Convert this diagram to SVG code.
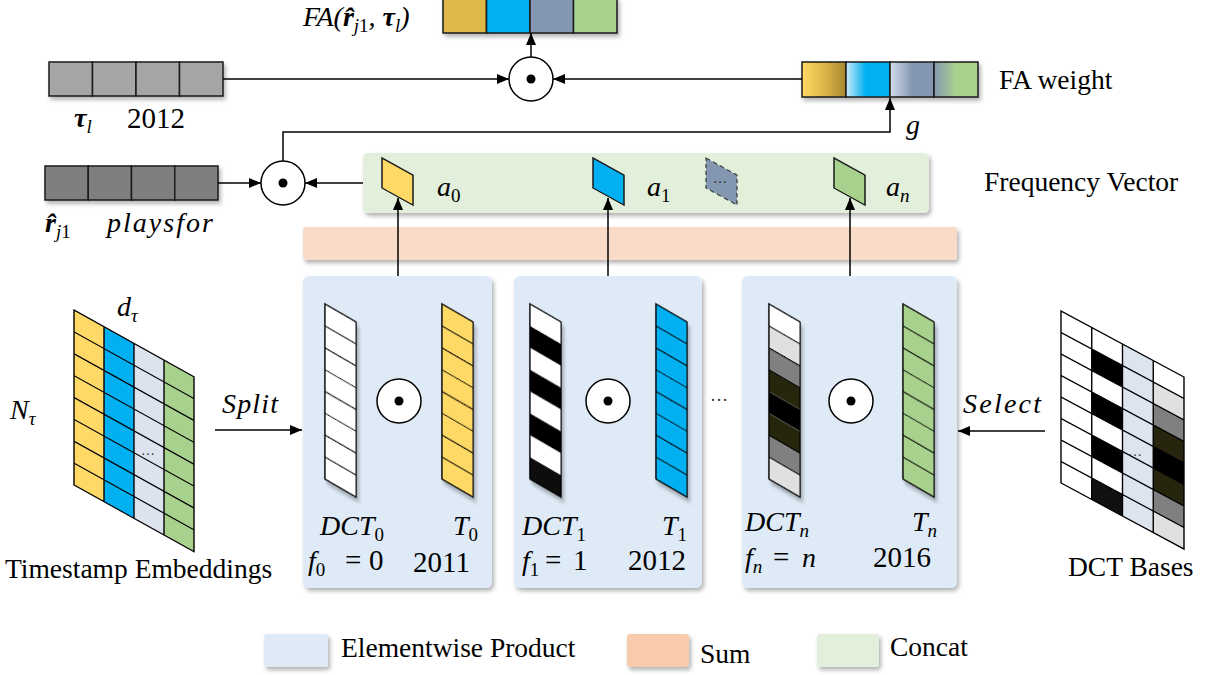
<svg xmlns="http://www.w3.org/2000/svg" width="1206" height="675" viewBox="0 0 1206 675">
<style>
.m{font-family:"Liberation Serif",serif;font-style:italic;font-size:28px;fill:#000}
.s{font-size:19px}
.sr{font-size:19px;font-style:normal}
.r{font-style:normal}
.d{font-family:"Liberation Serif",serif;font-style:normal;font-size:29px;fill:#000}
.b{font-weight:bold}
.t{font-family:"Liberation Serif",serif;font-size:27.5px;fill:#000}
.cell{stroke:#1a1a1a;stroke-width:1.5}
.ln{stroke:#000;stroke-width:1.5;fill:none}
.grid{stroke:#000;stroke-width:1.4;fill:none}
.op{fill:#fff;stroke:#000;stroke-width:1.5}
</style>
<defs>
<filter id="sh" x="-10%" y="-10%" width="130%" height="140%"><feDropShadow dx="2" dy="3" stdDeviation="2" flood-color="#000" flood-opacity="0.3"/></filter>
<marker id="arr" viewBox="0 0 12 10" refX="12" refY="5" markerWidth="12" markerHeight="10" markerUnits="userSpaceOnUse" orient="auto"><path d="M0,0 L12,5 L0,10 z" fill="#000"/></marker>
<linearGradient id="w1" x1="0" x2="1" y1="0" y2="0"><stop offset="0" stop-color="#FFDA60"/><stop offset="0.5" stop-color="#DDB64A"/><stop offset="1" stop-color="#A8892F"/></linearGradient>
<linearGradient id="w2" x1="0" x2="1" y1="0" y2="0"><stop offset="0" stop-color="#CDEBF9"/><stop offset="0.45" stop-color="#00B0F0"/><stop offset="1" stop-color="#00B0F0"/></linearGradient>
<linearGradient id="w3" x1="0" x2="1" y1="0" y2="0"><stop offset="0" stop-color="#D3DDEB"/><stop offset="0.5" stop-color="#8497B0"/><stop offset="1" stop-color="#8497B0"/></linearGradient>
<linearGradient id="w4" x1="0" x2="1" y1="0" y2="0"><stop offset="0" stop-color="#8497B0"/><stop offset="0.5" stop-color="#A9D18E"/><stop offset="1" stop-color="#A9D18E"/></linearGradient>
</defs>

<rect width="1206" height="675" fill="#fff"/>

<!-- Frequency vector concat box -->
<g id="freq-vector">
<rect x="363" y="153" width="566" height="60" rx="5" fill="#E2EFDA" filter="url(#sh)"/>
<g transform="matrix(1 0.55 0 1 382 158)"><rect width="31" height="30" fill="#FFD966" class="cell"/></g>
<g transform="matrix(1 0.55 0 1 593 158)"><rect width="31" height="30" fill="#00B0F0" class="cell"/></g>
<g transform="matrix(1 0.55 0 1 706 158)"><rect width="31" height="30" fill="#8497B0" stroke="#333" stroke-width="1.2" stroke-dasharray="4 3"/></g>
<text x="713" y="183" font-family="Liberation Serif,serif" font-size="14" fill="#222">…</text>
<g transform="matrix(1 0.55 0 1 834 158)"><rect width="31" height="30" fill="#A9D18E" class="cell"/></g>
<text class="m" x="437" y="196">a<tspan class="sr" dy="6">0</tspan></text>
<text class="m" x="647" y="196">a<tspan class="sr" dy="6">1</tspan></text>
<text class="m" x="886" y="196">a<tspan class="s" dy="6">n</tspan></text>
<text class="t" x="984" y="191">Frequency Vector</text>
</g>

<g id="sum-bar">
<rect x="303" y="227" width="654" height="33" rx="3" fill="#F9DBC7" filter="url(#sh)"/>
</g>

<!-- FA output -->
<g id="fa-output">
<g filter="url(#sh)">
<rect x="443" y="-2" width="43.5" height="35" fill="#DEB848" class="cell"/>
<rect x="486.5" y="-2" width="43.5" height="35" fill="#00B0F0" class="cell"/>
<rect x="530" y="-2" width="43.5" height="35" fill="#8497B0" class="cell"/>
<rect x="573.5" y="-2" width="43.5" height="35" fill="#A9D18E" class="cell"/>
</g>
<text class="m" x="303" y="26">FA(<tspan class="b">r̂</tspan><tspan class="s" dy="6">j</tspan><tspan class="sr">1</tspan><tspan dy="-6">, </tspan><tspan class="b">τ</tspan><tspan class="s" dy="6">l</tspan><tspan dy="-6">)</tspan></text>
</g>

<g id="op-top"><circle cx="531" cy="79" r="22" class="op"/><circle cx="531" cy="79" r="4.5" fill="#000"/></g>
<g id="op-left"><circle cx="283" cy="183" r="22" class="op"/><circle cx="283" cy="183" r="4.5" fill="#000"/></g>

<!-- tau_l bar -->
<g id="tau-l">
<g filter="url(#sh)">
<rect x="49" y="62" width="43.5" height="34" fill="#A6A6A6" class="cell"/>
<rect x="92.5" y="62" width="43.5" height="34" fill="#A6A6A6" class="cell"/>
<rect x="136" y="62" width="43.5" height="34" fill="#A6A6A6" class="cell"/>
<rect x="179.5" y="62" width="43.5" height="34" fill="#A6A6A6" class="cell"/>
</g>
<text class="m" x="74" y="127"><tspan class="b">τ</tspan><tspan class="s" dy="6">l</tspan></text>
<text class="d" x="127" y="128">2012</text>
</g>

<!-- r_j1 bar -->
<g id="r-j1">
<g filter="url(#sh)">
<rect x="45" y="166" width="43.25" height="34" fill="#7F7F7F" class="cell"/>
<rect x="88.25" y="166" width="43.25" height="34" fill="#7F7F7F" class="cell"/>
<rect x="131.5" y="166" width="43.25" height="34" fill="#7F7F7F" class="cell"/>
<rect x="174.75" y="166" width="43.25" height="34" fill="#7F7F7F" class="cell"/>
</g>
<text class="m" x="45" y="232"><tspan class="b">r̂</tspan><tspan class="s" dy="6">j</tspan><tspan class="sr">1</tspan></text>
<text class="m" x="107" y="232" textLength="106" lengthAdjust="spacing">playsfor</text>
</g>

<!-- FA weight -->
<g id="fa-weight">
<g filter="url(#sh)">
<rect x="802" y="62" width="44" height="35" fill="url(#w1)" class="cell"/>
<rect x="846" y="62" width="44" height="35" fill="url(#w2)" class="cell"/>
<rect x="890" y="62" width="44" height="35" fill="url(#w3)" class="cell"/>
<rect x="934" y="62" width="44" height="35" fill="url(#w4)" class="cell"/>
</g>
<text class="t" x="999" y="89">FA weight</text>
</g>
<text class="m" x="906" y="134">g</text>

<!-- Timestamp embeddings -->
<g id="timestamp-embeddings">
<g transform="matrix(1 0.556 0 1 74 310)">
<rect x="0" y="0" width="30" height="175" fill="#FFD966"/>
<rect x="30" y="0" width="30" height="175" fill="#00B0F0"/>
<rect x="60" y="0" width="30" height="175" fill="#DDE3EE"/>
<rect x="90" y="0" width="30" height="175" fill="#A9D18E"/>
<path class="grid" d="M0,0H120V175H0Z M30,0V175 M60,0V175 M90,0V175 M0,21.875H120 M0,43.75H120 M0,65.625H120 M0,87.5H120 M0,109.375H120 M0,131.25H120 M0,153.125H120"/>
</g>
<text x="141" y="455" font-family="Liberation Serif,serif" font-size="14" fill="#333">…</text>
<text class="m" x="117" y="316">d<tspan class="s" dy="6">τ</tspan></text>
<text class="m" x="10" y="419">N<tspan class="s" dy="6">τ</tspan></text>
<text class="t" x="5" y="578">Timestamp Embeddings</text>
</g>
<text class="m" x="222" y="413" textLength="56" lengthAdjust="spacing">Split</text>

<!-- DCT bases -->
<g id="dct-bases">
<g transform="matrix(1 0.537 0 1 1061 311)">
<rect x="0" y="0" width="123" height="172" fill="#fff"/>
<rect x="30.75" y="21.5" width="30.75" height="21.5" fill="#000"/>
<rect x="30.75" y="64.5" width="30.75" height="21.5" fill="#000"/>
<rect x="30.75" y="107.5" width="30.75" height="21.5" fill="#000"/>
<rect x="30.75" y="150.5" width="30.75" height="21.5" fill="#111"/>
<rect x="61.5" y="0" width="30.75" height="172" fill="#DCE4F0"/>
<rect x="92.25" y="21.5" width="30.75" height="21.5" fill="#E0E0E0"/>
<rect x="92.25" y="43" width="30.75" height="21.5" fill="#808080"/>
<rect x="92.25" y="64.5" width="30.75" height="21.5" fill="#27250E"/>
<rect x="92.25" y="86" width="30.75" height="21.5" fill="#000"/>
<rect x="92.25" y="107.5" width="30.75" height="21.5" fill="#27250E"/>
<rect x="92.25" y="129" width="30.75" height="21.5" fill="#808080"/>
<rect x="92.25" y="150.5" width="30.75" height="21.5" fill="#E0E0E0"/>
<path class="grid" d="M0,0H123V172H0Z M30.75,0V172 M61.5,0V172 M92.25,0V172 M0,21.5H123 M0,43H123 M0,64.5H123 M0,86H123 M0,107.5H123 M0,129H123 M0,150.5H123"/>
</g>
<text x="1128" y="456" font-family="Liberation Serif,serif" font-size="14" fill="#333">…</text>
<text class="t" x="1068" y="576">DCT Bases</text>
</g>
<text class="m" x="963" y="413" textLength="78" lengthAdjust="spacing">Select</text>

<!-- DCT product box 0 -->
<g id="box-0">
<rect x="303" y="276" width="189" height="312" rx="6" fill="#DEEAF6" filter="url(#sh)"/>
<g transform="matrix(1 0.58 0 1 325 304)" filter="url(#sh)">
<rect width="31" height="175" fill="#fff"/>
<path class="grid" d="M0,0H31V175H0Z M0,21.875H31 M0,43.75H31 M0,65.625H31 M0,87.5H31 M0,109.375H31 M0,131.25H31 M0,153.125H31"/>
</g>
<g transform="matrix(1 0.58 0 1 442 304)" filter="url(#sh)">
<rect width="31" height="175" fill="#FFD966"/>
<path class="grid" d="M0,0H31V175H0Z M0,21.875H31 M0,43.75H31 M0,65.625H31 M0,87.5H31 M0,109.375H31 M0,131.25H31 M0,153.125H31"/>
</g>
<circle cx="399" cy="401" r="22" class="op"/><circle cx="399" cy="401" r="4.5" fill="#000"/>
<text class="m" x="320" y="535">DCT<tspan class="sr" dy="6">0</tspan></text>
<text class="m" x="453" y="535">T<tspan class="sr" dy="6">0</tspan></text>
<text class="m" x="308" y="570">f<tspan class="sr" dy="6">0</tspan><tspan class="d" x="345" dy="-6">=</tspan><tspan class="d" x="369">0</tspan></text>
<text class="d" x="413" y="572">2011</text>
</g>

<!-- DCT product box 1 -->
<g id="box-1">
<rect x="514" y="276" width="188" height="312" rx="6" fill="#DEEAF6" filter="url(#sh)"/>
<g transform="matrix(1 0.58 0 1 530 304)" filter="url(#sh)">
<rect width="31" height="175" fill="#fff"/>
<rect y="21.875" width="31" height="21.875" fill="#000"/>
<rect y="65.625" width="31" height="21.875" fill="#000"/>
<rect y="109.375" width="31" height="21.875" fill="#000"/>
<rect y="153.125" width="31" height="21.875" fill="#111"/>
<path class="grid" d="M0,0H31V175H0Z"/>
</g>
<g transform="matrix(1 0.58 0 1 656 304)" filter="url(#sh)">
<rect width="31" height="175" fill="#00B0F0"/>
<path class="grid" d="M0,0H31V175H0Z M0,21.875H31 M0,43.75H31 M0,65.625H31 M0,87.5H31 M0,109.375H31 M0,131.25H31 M0,153.125H31"/>
</g>
<circle cx="608" cy="401" r="22" class="op"/><circle cx="608" cy="401" r="4.5" fill="#000"/>
<text class="m" x="522" y="535">DCT<tspan class="sr" dy="6">1</tspan></text>
<text class="m" x="662" y="535">T<tspan class="sr" dy="6">1</tspan></text>
<text class="m" x="522" y="570">f<tspan class="sr" dy="6">1</tspan><tspan class="d" x="545" dy="-6">=</tspan><tspan class="d" x="573">1</tspan></text>
<text class="d" x="628" y="570">2012</text>
</g>

<text x="710" y="401" font-family="Liberation Serif,serif" font-size="18" fill="#333">…</text>

<!-- DCT product box n -->
<g id="box-n">
<rect x="742" y="276" width="215" height="312" rx="6" fill="#DEEAF6" filter="url(#sh)"/>
<g transform="matrix(1 0.58 0 1 769 304)" filter="url(#sh)">
<rect width="31" height="175" fill="#fff"/>
<rect y="21.875" width="31" height="21.875" fill="#E0E0E0"/>
<rect y="43.75" width="31" height="21.875" fill="#808080"/>
<rect y="65.625" width="31" height="21.875" fill="#27250E"/>
<rect y="87.5" width="31" height="21.875" fill="#000"/>
<rect y="109.375" width="31" height="21.875" fill="#27250E"/>
<rect y="131.25" width="31" height="21.875" fill="#808080"/>
<rect y="153.125" width="31" height="21.875" fill="#E0E0E0"/>
<path class="grid" d="M0,0H31V175H0Z M0,21.875H31 M0,43.75H31 M0,65.625H31 M0,131.25H31 M0,153.125H31"/>
</g>
<g transform="matrix(1 0.58 0 1 903 304)" filter="url(#sh)">
<rect width="31" height="175" fill="#A9D18E"/>
<path class="grid" d="M0,0H31V175H0Z M0,21.875H31 M0,43.75H31 M0,65.625H31 M0,87.5H31 M0,109.375H31 M0,131.25H31 M0,153.125H31"/>
</g>
<circle cx="851" cy="401" r="22" class="op"/><circle cx="851" cy="401" r="4.5" fill="#000"/>
<text class="m" x="745" y="531">DCT<tspan class="s" dy="6">n</tspan></text>
<text class="m" x="912" y="531">T<tspan class="s" dy="6">n</tspan></text>
<text class="m" x="745" y="567">f<tspan class="s" dy="6">n</tspan><tspan class="d" x="773" dy="-6">=</tspan><tspan x="802">n</tspan></text>
<text class="d" x="873" y="567">2016</text>
</g>

<!-- Connectors -->
<g id="connectors">
<line class="ln" x1="223" y1="79" x2="509" y2="79" marker-end="url(#arr)"/>
<line class="ln" x1="802" y1="79" x2="553" y2="79" marker-end="url(#arr)"/>
<line class="ln" x1="531" y1="57" x2="531" y2="33" marker-end="url(#arr)"/>
<path class="ln" d="M283,161 V132 H890 V98" marker-end="url(#arr)"/>
<line class="ln" x1="218" y1="183" x2="261" y2="183" marker-end="url(#arr)"/>
<line class="ln" x1="363" y1="183" x2="305" y2="183" marker-end="url(#arr)"/>
<line class="ln" x1="398" y1="276" x2="398" y2="198" marker-end="url(#arr)"/>
<line class="ln" x1="608" y1="276" x2="608" y2="198" marker-end="url(#arr)"/>
<line class="ln" x1="850" y1="276" x2="850" y2="198" marker-end="url(#arr)"/>
<line class="ln" x1="215" y1="430" x2="302" y2="430" marker-end="url(#arr)"/>
<line class="ln" x1="1045" y1="431" x2="958" y2="431" marker-end="url(#arr)"/>
</g>

<!-- Legend -->
<g id="legend">
<rect x="264" y="634" width="64" height="33" rx="3" fill="#DEEAF6" filter="url(#sh)"/>
<text class="t" x="341" y="657">Elementwise Product</text>
<rect x="627" y="634" width="62" height="33" rx="3" fill="#F8CBAD" filter="url(#sh)"/>
<text class="t" x="700" y="663">Sum</text>
<rect x="817" y="634" width="62" height="33" rx="3" fill="#E2EFDA" filter="url(#sh)"/>
<text class="t" x="890" y="656">Concat</text>
</g>
</svg>
